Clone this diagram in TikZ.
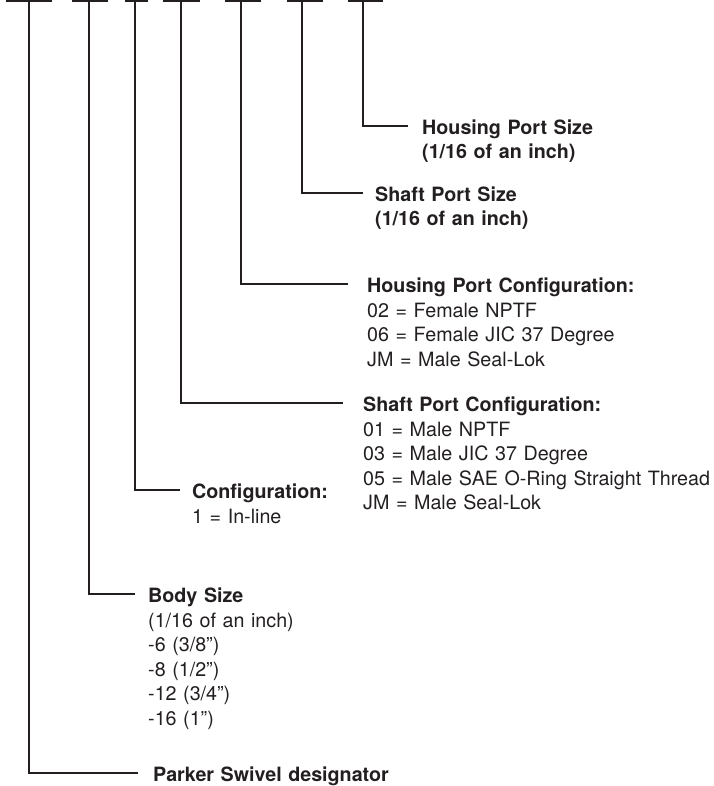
\documentclass[tikz,border=0pt]{standalone}
\usepackage{fontspec}
\setmainfont{TeX Gyre Heros}
\definecolor{ink}{HTML}{231F20}
\begin{document}
\begin{tikzpicture}[x=1pt,y=-1pt]
\tikzset{
  bar/.style={draw=ink, line width=2.4pt},
  lead/.style={draw=ink, line width=1.6pt, line join=miter},
  lbl/.style={anchor=base west, inner sep=0pt, text width=345pt, align=left,
              font=\fontsize{19.7}{24.5}\selectfont, text=ink}
}
\useasboundingbox (0,0) rectangle (713,786);
% top bars
\draw[bar] (6,1.2) -- (52,1.2);
\draw[bar] (72,1.2) -- (108,1.2);
\draw[bar] (125,1.2) -- (148,1.2);
\draw[bar] (163,1.2) -- (200,1.2);
\draw[bar] (225,1.2) -- (261,1.2);
\draw[bar] (287,1.2) -- (323,1.2);
\draw[bar] (348,1.2) -- (383,1.2);
\coordinate (t1) at (29,0);
\coordinate (t2) at (89,0);
\coordinate (t3) at (135,0);
\coordinate (t4) at (181,0);
\coordinate (t5) at (241,0);
\coordinate (t6) at (302,0);
\coordinate (t7) at (363,0);
% line ends
\coordinate (e7) at (408,126);
\coordinate (e6) at (363,193);
\coordinate (e5) at (348,284);
\coordinate (e4) at (343,403);
\coordinate (e3) at (180,490);
\coordinate (e2) at (135,594);
\coordinate (e1) at (138,773);
% labels
\node[lbl] (l7) at (422,134.5) {\textbf{Housing Port Size}\\\textbf{(1/16 of an inch)}};
\node[lbl] (l6) at (375,201.5) {\textbf{Shaft Port Size}\\\textbf{(1/16 of an inch)}};
\node[lbl] (l5) at (367,292.5) {\textbf{Housing Port Configuration:}\\02 = Female NPTF\\06 = Female JIC 37 Degree\\JM = Male Seal-Lok};
\node[lbl, text width=348pt] (l4) at (363,411.5) {\textbf{Shaft Port Configuration:}\\01 = Male NPTF\\03 = Male JIC 37 Degree\\05 = Male SAE O-Ring Straight Thread\\JM = Male Seal-Lok};
\node[lbl] (l3) at (192,498.5) {\textbf{Configuration:}\\1 = In-line};
\node[lbl] (l2) at (148,602.5) {\textbf{Body Size}\\(1/16 of an inch)\\-6 (3/8”)\\-8 (1/2”)\\-12 (3/4”)\\-16 (1”)};
\node[lbl] (l1) at (153,781.5) {\textbf{Parker Swivel designator}};
% leaders
\draw[lead] (t1) |- (e1);
\draw[lead] (t2) |- (e2);
\draw[lead] (t3) |- (e3);
\draw[lead] (t4) |- (e4);
\draw[lead] (t5) |- (e5);
\draw[lead] (t6) |- (e6);
\draw[lead] (t7) |- (e7);
\end{tikzpicture}
\end{document}
